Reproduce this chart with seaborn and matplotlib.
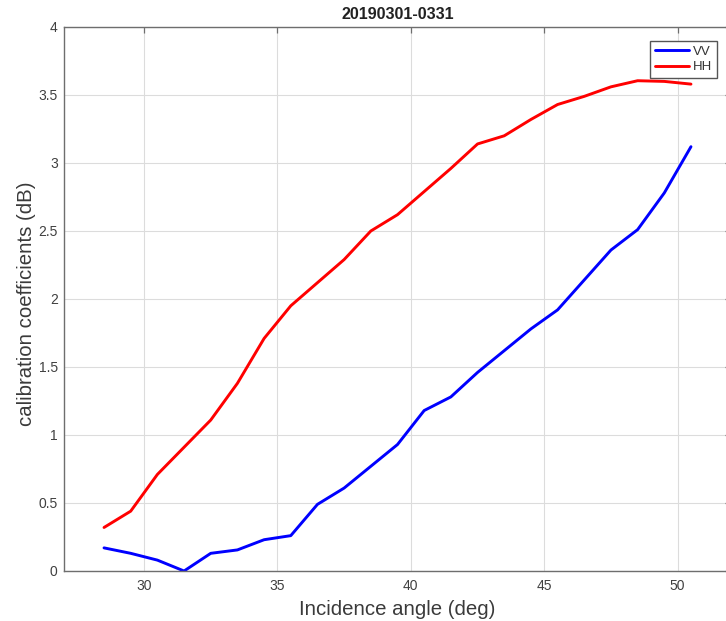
import numpy as np
import pandas as pd
import matplotlib
matplotlib.use("Agg")
import matplotlib.pyplot as plt
import seaborn as sns

# ---- data ----
angles = [28.5, 29.5, 30.5, 31.5, 32.5, 33.5, 34.5, 35.5, 36.5, 37.5, 38.5, 39.5,
          40.5, 41.5, 42.5, 43.5, 44.5, 45.5, 46.5, 47.5, 48.5, 49.5, 50.5]
vv = [0.17, 0.13, 0.08, 0.00, 0.13, 0.155, 0.23, 0.26, 0.49, 0.61, 0.77, 0.93,
      1.18, 1.28, 1.46, 1.62, 1.78, 1.92, 2.14, 2.36, 2.51, 2.78, 3.12]
hh = [0.32, 0.44, 0.71, 0.91, 1.11, 1.38, 1.71, 1.95, 2.12, 2.29, 2.50, 2.62,
      2.79, 2.96, 3.14, 3.20, 3.32, 3.43, 3.49, 3.56, 3.605, 3.60, 3.58]
series_names = ["VV", "HH"]
x_ticks = [30, 35, 40, 45, 50]
y_ticks = [0, 0.5, 1, 1.5, 2, 2.5, 3, 3.5, 4]
y_tick_labels = ["0", "0.5", "1", "1.5", "2", "2.5", "3", "3.5", "4"]
title = "20190301-0331"
x_label = "Incidence angle (deg)"
y_label = "calibration coefficients (dB)"

df = pd.DataFrame({
    "angle": angles * 2,
    "value": vv + hh,
    "pol": [series_names[0]] * len(angles) + [series_names[1]] * len(angles),
})

sns.set_style("white")
plt.rcParams["font.family"] = ["Liberation Sans", "DejaVu Sans"]

fig = plt.figure(figsize=(7.26, 6.21), dpi=100)
W, H = 726, 621
left, right, top, bottom = 64, 731, 27, 571
ax = fig.add_axes([left / W, 1 - bottom / H, (right - left) / W, (bottom - top) / H])

sns.lineplot(data=df, x="angle", y="value", hue="pol",
             palette={"VV": "#0000ff", "HH": "#ff0000"},
             linewidth=2.1, ax=ax, legend=True)

ax.set_xlim(27, 52)
ax.set_ylim(0, 4)
ax.set_xticks(x_ticks)
ax.set_xticklabels([str(t) for t in x_ticks])
ax.set_yticks(y_ticks)
ax.set_yticklabels(y_tick_labels)

ax.grid(True, color="#dcdcdc", linewidth=0.8)
ax.set_axisbelow(True)
for s in ax.spines.values():
    s.set_color("#6e6e6e")
    s.set_linewidth(1.0)
ax.tick_params(direction="in", length=4.5, width=0.9, color="#6e6e6e",
               labelsize=10, labelcolor="#404040", top=True, right=True)
ax.tick_params(axis="x", pad=6)
ax.tick_params(axis="y", pad=4.5)

ax.set_xlabel(x_label, fontsize=14.7, color="#3a3a3a", labelpad=5)
ax.set_ylabel(y_label, fontsize=14.7, color="#3a3a3a")
ax.yaxis.set_label_coords((36 - left) / (right - left), (bottom - 304) / (bottom - top))
ax.set_title(title, fontsize=11.6, fontweight="bold", color="#222222", pad=5.5)

leg = ax.legend(loc="upper right", bbox_to_anchor=(717 / W, 1 - 41 / H),
                bbox_transform=fig.transFigure, fontsize=9.5, frameon=True,
                fancybox=False, edgecolor="#555555", framealpha=1,
                handlelength=2.6, handletextpad=0.3, borderpad=0.35,
                labelspacing=0.25, borderaxespad=0)
leg.get_frame().set_linewidth(1.0)
for t in leg.get_texts():
    t.set_color("#333333")

fig.savefig("out.png", dpi=100)
